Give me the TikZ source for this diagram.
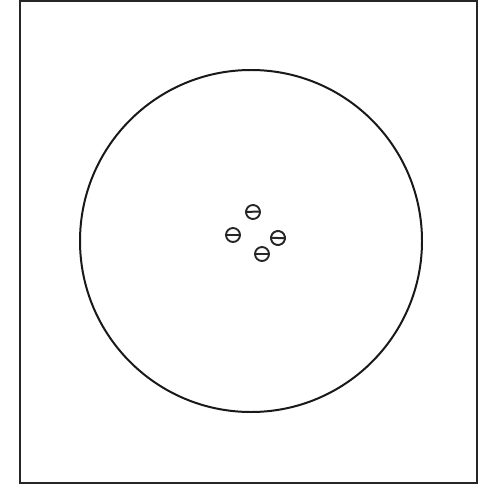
\documentclass[tikz,border=0pt]{standalone}
\usetikzlibrary{positioning}
\tikzset{
  frame/.style={draw=black!85, line width=1.9pt},
  dish/.style={draw=black!90, line width=1.7pt},
  grain/.style={circle, draw=black!85, line width=1.6pt, fill=white,
                minimum size=4.2mm, inner sep=0pt,
                path picture={
                  \draw[line width=1.7pt, black!85]
                    ([xshift=0.4mm]path picture bounding box.west) --
                    ([xshift=-0.4mm]path picture bounding box.east);
                }}
}
\begin{document}
\begin{tikzpicture}[x=0.3mm, y=-0.3mm]
  \useasboundingbox (0,0) rectangle (482,490);

  % Outer frame
  \draw[frame] (20,1) rectangle (477,483);

  % Large disc
  \node[dish, circle, minimum size=342*0.3mm, inner sep=0pt] (D) at (251,241) {};

  % Four small grains near the centre
  \node[grain, rotate=-8] (g1) at (253,212) {};
  \node[grain]            (g2) at (233,235) {};
  \node[grain, rotate=12] (g3) at (278,238) {};
  \node[grain]            (g4) at (262,254) {};

\end{tikzpicture}
\end{document}
